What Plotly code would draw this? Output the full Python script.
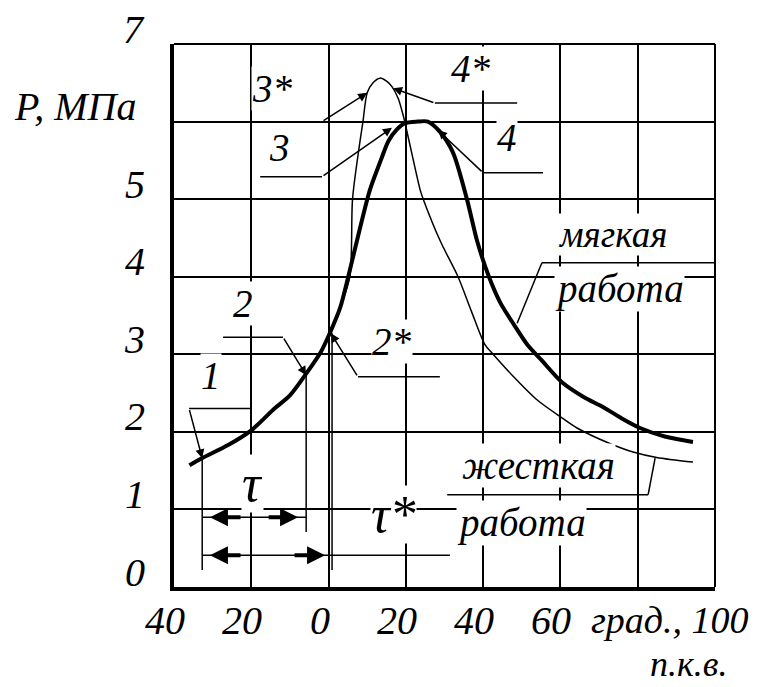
import plotly.graph_objects as go

# ---- data ----
soft_x = [-36, -32.8, -26, -20, -14, -10, -5.8, -2, 0.3, 3, 5, 8, 10.7, 13.5, 15.5,
          17.7, 19.8, 23, 25.7, 28.8, 32.2, 35.8, 38.5, 41.5, 44.5, 48, 51.5, 55,
          60.4, 66, 71, 76, 80.6, 87, 94.3]
soft_y = [1.57, 1.66, 1.83, 2.02, 2.3, 2.47, 2.75, 3.03, 3.27, 3.6, 3.98, 4.6, 5.12,
          5.5, 5.75, 5.9, 5.98, 6.0, 6.0, 5.87, 5.6, 5.0, 4.45, 4.0, 3.66, 3.38, 3.12,
          2.93, 2.64, 2.45, 2.32, 2.17, 2.05, 1.94, 1.87]

hard_x = [0.6, 3, 5.5, 6.2, 7.8, 8.9, 10, 11.5, 13.3, 15, 16.4, 18, 19.2, 19.8, 21.5,
          23.7, 24.5, 29, 33.5, 37, 40.5, 42.6, 47.7, 54, 60.4, 64.3, 72.3, 78.8, 84.9,
          94.3]
hard_y = [3.27, 3.6, 4.0, 5.0, 5.63, 6.0, 6.37, 6.5, 6.56, 6.52, 6.45, 6.3, 6.1, 5.98,
          5.6, 5.12, 5.0, 4.45, 4.0, 3.55, 3.12, 3.0, 2.72, 2.41, 2.18, 2.05, 1.86, 1.74,
          1.67, 1.61]

x_tick_vals = [-40, -20, 0, 20, 40, 60]
x_tick_text = ["40", "20", "0", "20", "40", "60"]
x_unit_text = "град., 100"
x_unit_text2 = "п.к.в."
y_tick_vals = [0, 1, 2, 3, 4, 5, 6, 7]
y_tick_text = ["0", "1", "2", "3", "4", "5", "P, МПа", "7"]

FONT = "Liberation Serif"
NUM = 40
WORD = 39

fig = go.Figure()
fig.add_trace(go.Scatter(x=soft_x, y=soft_y, mode="lines",
                         line=dict(color="black", width=4, shape="spline", smoothing=0.8),
                         hoverinfo="skip", showlegend=False))
fig.add_trace(go.Scatter(x=hard_x, y=hard_y, mode="lines",
                         line=dict(color="black", width=1.5, shape="spline", smoothing=0.8),
                         hoverinfo="skip", showlegend=False))

ann = []
shapes = []


def txt(x, y, s, size=WORD, bg=True, **kw):
    d = dict(x=x, y=y, text=s, showarrow=False, xref="x", yref="y",
             font=dict(family=FONT, size=size, color="black", style="italic"),
             bgcolor="white" if bg else "rgba(0,0,0,0)", borderpad=0)
    d.update(kw)
    ann.append(d)


def seg(x0, y0, x1, y1, w=1.5):
    shapes.append(dict(type="line", xref="x", yref="y", x0=x0, y0=y0, x1=x1, y1=y1,
                       line=dict(color="black", width=w), layer="above"))


def arrow(hx, hy, tx, ty, w=1.5, head=2, size=1.2):
    ann.append(dict(x=hx, y=hy, ax=tx, ay=ty, xref="x", yref="y", axref="x", ayref="y",
                    text="", showarrow=True, arrowhead=head, arrowsize=size,
                    arrowwidth=w, arrowcolor="black", standoff=0, startstandoff=0))


# curve labels (white background hides the grid behind)
txt(-14.4, 6.43, "3*")
txt(-12.6, 5.67, "3")
txt(-22.1, 3.66, "2")
txt(-30.4, 2.73, "1")
txt(16.4, 3.16, "2*")
txt(36.9, 6.68, "4*")
txt(46.2, 5.79, "4")
txt(73.4, 4.55, "мягкая", size=37)
txt(75.4, 3.84, "работа")
txt(54.2, 1.57, "жесткая")
txt(50.0, 0.83, "работа")
txt(-19.8, 1.34, "τ", size=52)
txt(16.7, 0.93, "τ*", size=52)

# leader lines
seg(-36.1, 2.30, -20.3, 2.30); arrow(-32.7, 1.66, -36.1, 2.30)
seg(-27.3, 3.22, -11.8, 3.22); arrow(-5.8, 2.73, -11.8, 3.22)
seg(7.6, 2.71, 28.8, 2.71); arrow(0.6, 3.27, 7.6, 2.71)
seg(-1.7, 5.29, -17.7, 5.29); arrow(16.4, 5.92, -1.7, 5.29)
arrow(10.0, 6.37, -1.7, 6.0)
seg(27.5, 6.24, 48.8, 6.24); arrow(16.7, 6.43, 27.5, 6.24)
seg(40.0, 5.34, 55.5, 5.34); arrow(28.3, 5.89, 40.0, 5.34)
seg(48.8, 3.40, 55.2, 4.18); seg(55.2, 4.18, 100, 4.18)
seg(84.5, 1.66, 82.7, 1.19); seg(82.7, 1.19, 30.7, 1.19)

# ignition delay dimension lines
seg(-32.7, 1.66, -32.7, 0.22)
seg(-5.8, 2.73, -5.8, 0.71)
seg(0.9, 3.27, 0.9, 0.22)
seg(-32.7, 0.90, -5.8, 0.90)
seg(-32.7, 0.41, 31.4, 0.41)
arrow(-30.7, 0.90, -22.4, 0.90, w=4, size=0.9)
arrow(-7.9, 0.90, -15.9, 0.90, w=4, size=0.9)
arrow(-30.7, 0.41, -22.4, 0.41, w=4, size=0.9)
arrow(-0.9, 0.41, -9.2, 0.41, w=4, size=0.9)

# axis tick labels as text
for v, t in zip(x_tick_vals, x_tick_text):
    ann.append(dict(x=v, y=0, xref="x", yref="paper", text=t, showarrow=False,
                    xanchor="center", yanchor="middle", xshift=-9, yshift=-33,
                    font=dict(family=FONT, size=NUM, color="black", style="italic")))
ann.append(dict(x=1, y=0, xref="paper", yref="paper", text=x_unit_text, showarrow=False,
                xanchor="right", yanchor="middle", xshift=36, yshift=-33,
                font=dict(family=FONT, size=NUM - 2, color="black", style="italic")))
ann.append(dict(x=1, y=0, xref="paper", yref="paper", text=x_unit_text2, showarrow=False,
                xanchor="right", yanchor="bottom", xshift=14, yshift=-99,
                font=dict(family=FONT, size=NUM - 4, color="black", style="italic")))
for v, t in zip(y_tick_vals, y_tick_text):
    ann.append(dict(x=0, y=v, xref="paper", yref="y", text=t, showarrow=False,
                    xanchor="right", yanchor="middle",
                    xshift=-36 if len(t) > 1 else -27, yshift=15,
                    font=dict(family=FONT, size=NUM, color="black", style="italic")))

# top and right frame lines
shapes.append(dict(type="line", xref="paper", yref="paper", x0=0, y0=1, x1=1, y1=1,
                   line=dict(color="black", width=2), layer="above"))
shapes.append(dict(type="line", xref="paper", yref="paper", x0=1, y0=0, x1=1, y1=1,
                   line=dict(color="black", width=2), layer="above"))

fig.update_layout(
    width=758, height=687,
    margin=dict(l=166, r=51, t=36, b=108),
    paper_bgcolor="white", plot_bgcolor="white",
    annotations=ann, shapes=shapes,
    xaxis=dict(range=[-40, 100], tick0=-40, dtick=20, showgrid=True, gridcolor="black",
               gridwidth=2, zeroline=False, showticklabels=False, ticks="",
               showline=True, linecolor="black", linewidth=4, fixedrange=True),
    yaxis=dict(range=[0, 7], tick0=0, dtick=1, showgrid=True, gridcolor="black",
               gridwidth=2, zeroline=False, showticklabels=False, ticks="",
               showline=True, linecolor="black", linewidth=4, fixedrange=True),
)

fig.write_html("out.html")
